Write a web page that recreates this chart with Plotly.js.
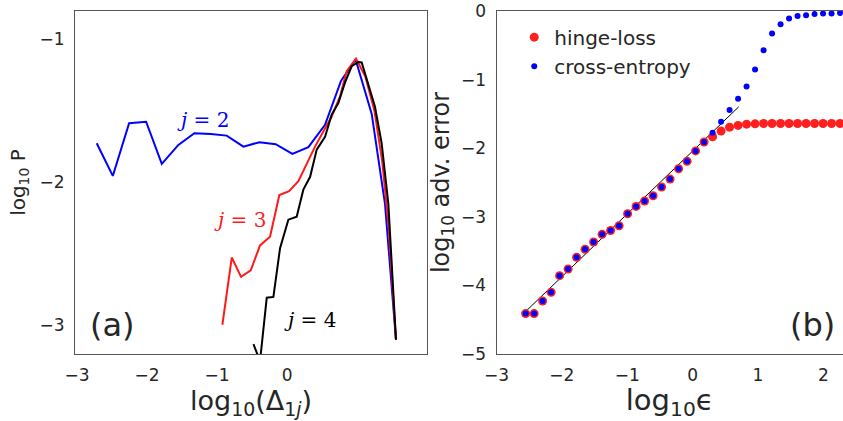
<!DOCTYPE html>
<html>
<head>
<meta charset="utf-8">
<script src="https://cdn.plot.ly/plotly-3.0.1.min.js"></script>
<style>html,body{margin:0;padding:0;background:#fff}#chart{width:843px;height:421px}</style>
</head>
<body>
<div id="chart"></div>
<script>
// Panel (a): log10 P versus log10(Delta_1j)
var j2X = [-2.72,-2.49,-2.257,-2.014,-1.79,-1.553,-1.324,-1.09,-0.862,-0.624,-0.395,-0.162,0.076,0.305,0.543,0.771,0.98,1.21,1.40,1.557];
var j2Y = [-1.725,-1.954,-1.585,-1.575,-1.87,-1.737,-1.655,-1.66,-1.672,-1.749,-1.718,-1.732,-1.80,-1.753,-1.596,-1.29,-1.14,-1.52,-2.15,-3.1];
var j3X = [-0.924,-0.79,-0.657,-0.519,-0.386,-0.243,-0.11,0.029,0.162,0.281,0.4,0.519,0.638,0.757,0.852,0.986,1.12,1.25,1.36,1.45,1.557];
var j3Y = [-2.995,-2.525,-2.66,-2.614,-2.44,-2.38,-2.088,-2.06,-1.99,-1.865,-1.749,-1.643,-1.538,-1.398,-1.222,-1.133,-1.26,-1.50,-1.85,-2.3,-3.1];
var j4X = [-0.48,-0.386,-0.29,-0.195,-0.1,0.019,0.138,0.233,0.33,0.424,0.543,0.638,0.733,0.829,0.924,1.019,1.067,1.138,1.257,1.352,1.448,1.557];
var j4Y = [-3.13,-3.25,-2.806,-2.80,-2.46,-2.26,-2.24,-2.05,-1.96,-1.77,-1.68,-1.526,-1.445,-1.30,-1.187,-1.157,-1.16,-1.27,-1.47,-1.725,-2.15,-3.1];
var aTicks = [-3,-2,-1,0];
var aYTicks = [-3,-2,-1];

// Panel (b): log10 adversarial error versus log10 epsilon
var epsX = [-2.555,-2.425,-2.295,-2.165,-2.035,-1.905,-1.775,-1.645,-1.515,-1.385,-1.255,-1.125,-0.995,-0.865,-0.735,-0.605,-0.475,-0.345,-0.215,-0.085,0.045,0.175,0.305,0.435,0.565,0.695,0.825,0.955,1.085,1.215,1.345,1.475,1.605,1.735,1.865,1.995,2.125,2.255];
var crossY = [-4.41,-4.41,-4.226,-4.10,-3.857,-3.76,-3.59,-3.473,-3.367,-3.255,-3.2,-3.13,-2.955,-2.848,-2.77,-2.693,-2.566,-2.45,-2.30,-2.19,-2.04,-1.91,-1.776,-1.615,-1.445,-1.28,-1.10,-0.853,-0.572,-0.33,-0.194,-0.11,-0.072,-0.063,-0.044,-0.038,-0.038,-0.03];
var hingeY = [-4.41,-4.41,-4.226,-4.10,-3.857,-3.76,-3.59,-3.473,-3.367,-3.255,-3.2,-3.13,-2.955,-2.848,-2.77,-2.693,-2.566,-2.45,-2.30,-2.19,-2.04,-1.91,-1.833,-1.751,-1.693,-1.668,-1.65,-1.645,-1.64,-1.64,-1.64,-1.64,-1.64,-1.64,-1.64,-1.64,-1.64,-1.64];
var fitX = [-2.555, 0.705];
var fitY = [-4.38, -1.397];

var FONT = 'DejaVu Sans, sans-serif';
var TXT = '#262626';
var traces = [
  {x: j2X, y: j2Y, xaxis:'x', yaxis:'y', mode:'lines', line:{color:'#0000ff', width:2}, showlegend:false},
  {x: j3X, y: j3Y, xaxis:'x', yaxis:'y', mode:'lines', line:{color:'#ff1a1a', width:2}, showlegend:false},
  {x: j4X, y: j4Y, xaxis:'x', yaxis:'y', mode:'lines', line:{color:'#000000', width:2}, showlegend:false},
  {x: fitX, y: fitY, xaxis:'x2', yaxis:'y2', mode:'lines', line:{color:'#000000', width:1}, showlegend:false},
  {x: epsX, y: hingeY, xaxis:'x2', yaxis:'y2', mode:'markers', name:'hinge-loss', marker:{color:'#ff1f1f', size:9}},
  {x: epsX, y: crossY, xaxis:'x2', yaxis:'y2', mode:'markers', name:'cross-entropy', marker:{color:'#0000ff', size:6}}
];

var axBase = {showgrid:false, zeroline:false, showline:true, linecolor:'#555555', linewidth:1,
  ticks:'', tickfont:{family:FONT, size:17, color:TXT}, ticklabelstandoff:6};

var layout = {
  width:843, height:421,
  margin:{l:0, r:0, t:0, b:0},
  paper_bgcolor:'#ffffff', plot_bgcolor:'#ffffff',
  font:{family:FONT, color:TXT},
  showlegend:true,
  legend:{x:0.61, y:0.958, xanchor:'left', yanchor:'top', bgcolor:'rgba(0,0,0,0)',
    font:{family:FONT, size:20, color:TXT}, itemsizing:'trace', tracegroupgap:0},
  xaxis: Object.assign({}, axBase, {domain:[0.089, 0.5065], range:[-3.03, 2.0], tickvals:aTicks, mirror:true, anchor:'y',
    title:{text:'log<sub>10</sub>(Δ<sub>1<i>j</i></sub>)', font:{family:FONT, size:27, color:TXT}, standoff:0}}),
  yaxis: Object.assign({}, axBase, {domain:[0.159, 0.974], range:[-3.2, -0.8], tickvals:aYTicks, mirror:true, anchor:'x',
    title:{text:'log<sub>10</sub> P', font:{family:FONT, size:20, color:TXT}, standoff:8}}),
  xaxis2: Object.assign({}, axBase, {domain:[0.589, 1.0], range:[-3, 2.3], dtick:1, tick0:0, mirror:true, anchor:'y2',
    title:{text:'log<sub>10</sub>ϵ', font:{family:FONT, size:29, color:TXT}, standoff:0}}),
  yaxis2: Object.assign({}, axBase, {domain:[0.159, 0.974], range:[-5, 0], dtick:1, tick0:0, mirror:false, anchor:'x2',
    title:{text:'log<sub>10</sub> adv. error', font:{family:FONT, size:24, color:TXT}, standoff:4}}),
  annotations:[
    {text:'(a)', xref:'paper', yref:'paper', x:0.133, y:0.228, xanchor:'center', yanchor:'middle', showarrow:false, font:{family:FONT, size:32, color:TXT}},
    {text:'(b)', xref:'paper', yref:'paper', x:0.964, y:0.228, xanchor:'center', yanchor:'middle', showarrow:false, font:{family:FONT, size:32, color:TXT}},
    {text:'<i>j</i> = 2', xref:'paper', yref:'paper', x:0.2408, y:0.715, xanchor:'center', yanchor:'middle', showarrow:false, font:{family:'DejaVu Serif, serif', size:20, color:'#0000ff'}},
    {text:'<i>j</i> = 3', xref:'paper', yref:'paper', x:0.2847, y:0.4774, xanchor:'center', yanchor:'middle', showarrow:false, font:{family:'DejaVu Serif, serif', size:20, color:'#ff1a1a'}},
    {text:'<i>j</i> = 4', xref:'paper', yref:'paper', x:0.3677, y:0.2399, xanchor:'center', yanchor:'middle', showarrow:false, font:{family:'DejaVu Serif, serif', size:20, color:'#000000'}}
  ]
};

Plotly.newPlot('chart', traces, layout, {staticPlot:true, displayModeBar:false});
</script>
</body>
</html>
